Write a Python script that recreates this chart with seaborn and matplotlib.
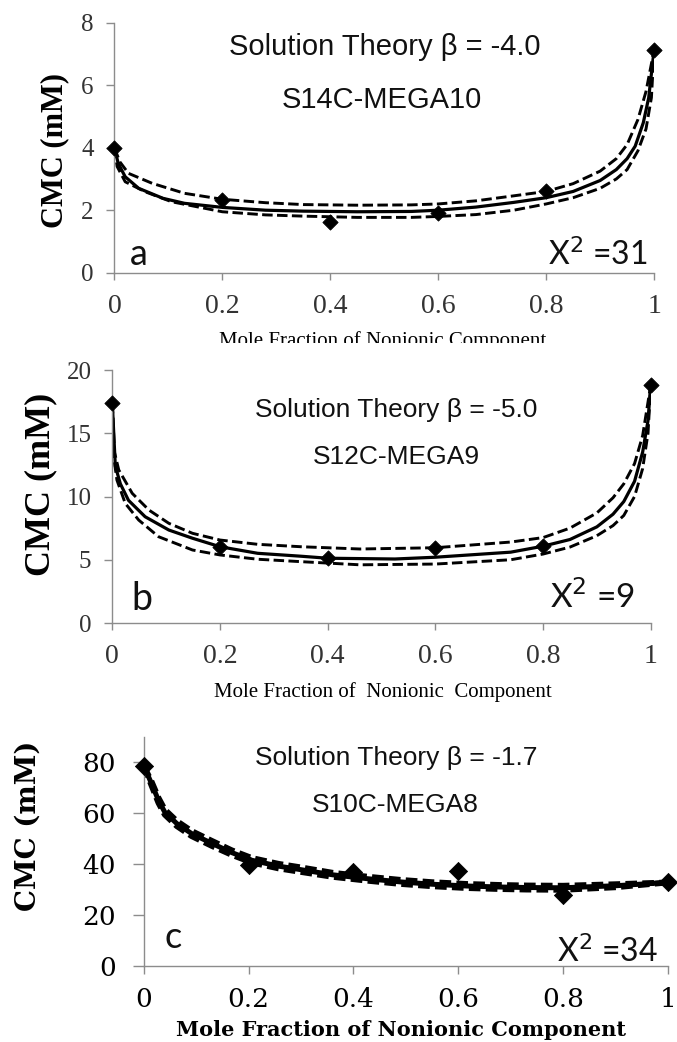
import matplotlib
matplotlib.use("Agg")
import matplotlib.pyplot as plt
import seaborn as sns
from matplotlib.transforms import Bbox, TransformedBbox

# ---------------- data ----------------
MOLE_FRACTION = [0.0, 0.2, 0.4, 0.6, 0.8, 1.0]
X_TICKS = [0.0, 0.2, 0.4, 0.6, 0.8, 1.0]
X_TICK_LABELS = ["0", "0.2", "0.4", "0.6", "0.8", "1"]

# (a) S14C-MEGA10, beta = -4.0
A_CMC = [4.0, 2.33, 1.63, 1.9, 2.62, 7.13]
A_FIT_X = [0, 0.007, 0.02, 0.045, 0.09, 0.13, 0.2, 0.28, 0.35, 0.45, 0.55, 0.6,
           0.67, 0.74, 0.8, 0.85, 0.9, 0.93, 0.95, 0.965, 0.98, 0.99, 1.0]
A_FIT_Y = [4.0, 3.5, 3.07, 2.7, 2.38, 2.22, 2.09, 2.0, 1.97, 1.95, 1.96, 2.0,
           2.1, 2.25, 2.4, 2.6, 2.95, 3.3, 3.65, 4.05, 4.8, 5.6, 7.13]
A_HI_X = [0, 0.01, 0.026, 0.07, 0.13, 0.2, 0.28, 0.35, 0.45, 0.55, 0.6, 0.67,
          0.74, 0.8, 0.85, 0.9, 0.93, 0.95, 0.97, 0.985, 1.0]
A_HI_Y = [4.0, 3.55, 3.18, 2.86, 2.54, 2.35, 2.24, 2.18, 2.16, 2.17, 2.2, 2.3,
          2.46, 2.6, 2.85, 3.25, 3.65, 4.1, 4.9, 5.8, 7.13]
A_LO_X = [0, 0.005, 0.02, 0.057, 0.106, 0.2, 0.28, 0.35, 0.45, 0.55, 0.6, 0.67,
          0.74, 0.8, 0.85, 0.9, 0.93, 0.95, 0.97, 0.985, 0.995, 1.0]
A_LO_Y = [4.0, 3.4, 2.91, 2.59, 2.27, 1.95, 1.85, 1.81, 1.77, 1.77, 1.8, 1.86,
          2.0, 2.2, 2.4, 2.7, 3.0, 3.3, 3.9, 4.6, 5.6, 7.13]

# (b) S12C-MEGA9, beta = -5.0
B_CMC = [17.4, 6.0, 5.1, 5.9, 6.05, 18.8]
B_FIT_X = [0, 0.0056, 0.015, 0.03, 0.061, 0.105, 0.149, 0.2, 0.27, 0.35, 0.4,
           0.525, 0.6, 0.74, 0.8, 0.85, 0.9, 0.93, 0.95, 0.97, 0.985, 0.995, 1.0]
B_FIT_Y = [17.4, 12.4, 11.0, 9.7, 8.4, 7.35, 6.7, 6.03, 5.51, 5.28, 5.12,
           5.06, 5.2, 5.6, 6.07, 6.6, 7.6, 8.6, 9.6, 11.2, 13.5, 16.0, 18.8]
B_HI_X = [0, 0.004, 0.012, 0.037, 0.068, 0.105, 0.149, 0.2, 0.27, 0.35, 0.46,
          0.6, 0.74, 0.8, 0.85, 0.9, 0.93, 0.95, 0.97, 0.985, 1.0]
B_HI_Y = [17.4, 13.5, 12.1, 10.25, 8.93, 7.88, 7.09, 6.56, 6.22, 6.03, 5.85,
          5.95, 6.4, 6.75, 7.5, 8.7, 9.9, 11.0, 12.6, 14.8, 18.8]
B_LO_X = [0, 0.003, 0.0086, 0.024, 0.049, 0.086, 0.149, 0.2, 0.27, 0.35, 0.46,
          0.6, 0.74, 0.8, 0.85, 0.9, 0.93, 0.95, 0.97, 0.985, 0.995, 1.0]
B_LO_Y = [17.4, 13.0, 11.3, 9.46, 8.14, 6.82, 5.77, 5.38, 5.04, 4.85, 4.6,
          4.66, 5.0, 5.45, 6.0, 6.9, 7.7, 8.5, 10.0, 12.2, 15.0, 18.8]

# (c) S10C-MEGA8, beta = -1.7
C_CMC = [78.5, 39.8, 36.8, 37.4, 27.8, 32.8]
C_FIT_X = [0, 0.015, 0.028, 0.04, 0.063, 0.091, 0.13, 0.168, 0.206, 0.257, 0.3,
           0.36, 0.425, 0.49, 0.55, 0.616, 0.68, 0.73, 0.8, 0.9, 1.0]
C_FIT_Y = [78.5, 71.5, 65.0, 60.4, 55.9, 52.0, 48.1, 44.5, 41.5, 39.2, 37.8,
           35.8, 34.3, 33.0, 32.1, 31.4, 31.0, 30.8, 30.7, 31.5, 32.8]
C_HI_Y = [78.5, 72.3, 66.0, 61.4, 56.9, 53.0, 49.1, 45.4, 42.4, 40.1, 38.7,
          36.6, 35.1, 33.8, 32.9, 32.2, 31.8, 31.6, 31.5, 32.1, 32.8]
C_LO_Y = [78.5, 70.7, 64.0, 59.4, 54.9, 51.0, 47.1, 43.6, 40.6, 38.3, 36.9,
          35.0, 33.5, 32.2, 31.3, 30.6, 30.2, 30.0, 29.9, 30.9, 32.8]

# ---------------- style ----------------
sns.set_style("ticks")
plt.rcParams["font.family"] = ["Liberation Serif", "DejaVu Sans"]

W, H = 677, 1042
SPINE = "#8c8c8c"
TICK_TXT = "#333333"
SANS = ["Liberation Sans", "DejaVu Sans"]
LETTER = ["Lato", "DejaVu Sans"]
DASH = (0, (3.6, 1.5))


def fx(px):
    return px / W


def fy(py):
    return 1 - py / H


def make_axes(left, right, top, bottom):
    return fig.add_axes([fx(left), fy(bottom), (right - left) / W, (bottom - top) / H])


def draw_curves(ax, fit, hi, lo, pts, solid_lw, dash_lw, dash, msize):
    sns.lineplot(x=fit[0], y=fit[1], ax=ax, color="black", lw=solid_lw,
                 estimator=None, sort=False)
    sns.lineplot(x=hi[0], y=hi[1], ax=ax, color="black", lw=dash_lw,
                 linestyle=dash, estimator=None, sort=False)
    sns.lineplot(x=lo[0], y=lo[1], ax=ax, color="black", lw=dash_lw,
                 linestyle=dash, estimator=None, sort=False)
    sns.scatterplot(x=MOLE_FRACTION, y=pts, ax=ax, marker="D", s=msize,
                    color="black", edgecolor="black", linewidth=0.6,
                    zorder=5, clip_on=False)


def style_axes(ax, ylim, yticks, font, ysize, xsize, ycolor, ylen, xlen, ypad, xpad):
    ax.set_xlim(0, 1)
    ax.set_ylim(*ylim)
    sns.despine(ax=ax)
    for side in ("left", "bottom"):
        ax.spines[side].set_color(SPINE)
        ax.spines[side].set_linewidth(1.0)
    ax.set_xticks(X_TICKS)
    ax.set_xticklabels(X_TICK_LABELS, family=font, fontsize=xsize, color=ycolor)
    ax.set_yticks(yticks)
    ax.set_yticklabels([str(t) for t in yticks], family=font, fontsize=ysize, color=ycolor)
    ax.tick_params(axis="y", length=ylen, width=1, color=SPINE, pad=ypad)
    ax.tick_params(axis="x", length=xlen, width=1, color=SPINE, pad=xpad)
    ax.set_facecolor("none")


def place_ylabel(ax, text, px, py, family, size):
    ax.set_ylabel(text, family=family, fontsize=size, fontweight="bold", color="black")
    ax.yaxis.set_label_coords(fx(px), fy(py), transform=fig.transFigure)
    ax.yaxis.label.set_va("center")


def place_xlabel(ax, text, px, py, family, size, weight="normal"):
    ax.set_xlabel(text, family=family, fontsize=size, fontweight=weight, color="black")
    ax.xaxis.set_label_coords(fx(px), fy(py), transform=fig.transFigure)
    ax.xaxis.label.set_va("center")


def chi_label(px, py, value, size):
    fig.text(fx(px), fy(py), "X$^{2}$ =" + value, family=LETTER, fontsize=size,
             ha="right", va="baseline", color="#111111",
             math_fontfamily="dejavusans")


fig = plt.figure(figsize=(W / 100, H / 100), dpi=100)

# ---------------- panel a ----------------
ax_a = make_axes(114.4, 654.1, 22.7, 272.7)
draw_curves(ax_a, (A_FIT_X, A_FIT_Y), (A_HI_X, A_HI_Y), (A_LO_X, A_LO_Y), A_CMC,
            2.3, 2.1, DASH, 60)
style_axes(ax_a, (0, 8), [0, 2, 4, 6, 8], ["Liberation Serif"], 18, 20, TICK_TXT,
           6, 5, 9, 10)
place_ylabel(ax_a, "CMC (mM)", 55, 150, ["Liberation Serif"], 22)
place_xlabel(ax_a, "Mole Fraction of Nonionic Component", 383, 341,
             ["Liberation Serif"], 15)
# the axis title is cut by the panel below it
ax_a.xaxis.label.set_clip_box(TransformedBbox(Bbox.from_extents(0, fy(343), 1, 1),
                                              fig.transFigure))
ax_a.xaxis.label.set_clip_on(True)

fig.text(fx(384.5), fy(46.7), "Solution Theory β = -4.0", family=SANS, fontsize=21,
         ha="center", va="center", color="#111111")
fig.text(fx(382), fy(100), "S14C-MEGA10", family=SANS, fontsize=21,
         ha="center", va="center", color="#111111")
fig.text(fx(130), fy(265), "a", family=LETTER, fontsize=26, ha="left",
         va="baseline", color="#111111")
chi_label(648, 265, "31", 23)

# ---------------- panel b ----------------
ax_b = make_axes(112.3, 650.7, 370, 623)
draw_curves(ax_b, (B_FIT_X, B_FIT_Y), (B_HI_X, B_HI_Y), (B_LO_X, B_LO_Y), B_CMC,
            2.3, 2.1, DASH, 60)
style_axes(ax_b, (0, 20), [0, 5, 10, 15, 20], ["Liberation Serif"], 18, 20, TICK_TXT,
           6, 5, 9, 10)
place_ylabel(ax_b, "CMC (mM)", 41, 484, ["Liberation Serif"], 26)
place_xlabel(ax_b, "Mole Fraction of  Nonionic  Component", 383, 692,
             ["Liberation Serif"], 15)

fig.text(fx(396), fy(410), "Solution Theory β = -5.0", family=SANS, fontsize=19,
         ha="center", va="center", color="#111111")
fig.text(fx(396), fy(456.7), "S12C-MEGA9", family=SANS, fontsize=19,
         ha="center", va="center", color="#111111")
fig.text(fx(131), fy(610), "b", family=LETTER, fontsize=27, ha="left",
         va="baseline", color="#111111")
chi_label(635, 608, "9", 24)

# ---------------- panel c ----------------
ax_c = make_axes(143.8, 668, 736.7, 966)
draw_curves(ax_c, (C_FIT_X, C_FIT_Y), (C_FIT_X, C_HI_Y), (C_FIT_X, C_LO_Y), C_CMC,
            3.6, 4.2, (0, (2.0, 0.9)), 85)
style_axes(ax_c, (0, 90), [0, 20, 40, 60, 80], ["DejaVu Serif"], 19, 19, "black",
           8, 6, 12, 9)
place_ylabel(ax_c, "CMC (mM)", 28, 826, ["DejaVu Serif"], 20)
place_xlabel(ax_c, "Mole Fraction of Nonionic Component", 401, 1030,
             ["DejaVu Serif"], 15, weight="bold")

fig.text(fx(396), fy(758), "Solution Theory β = -1.7", family=SANS, fontsize=19,
         ha="center", va="center", color="#111111")
fig.text(fx(395), fy(805), "S10C-MEGA8", family=SANS, fontsize=19,
         ha="center", va="center", color="#111111")
fig.text(fx(165), fy(948), "c", family=LETTER, fontsize=26, ha="left",
         va="baseline", color="#111111")
chi_label(658, 961.7, "34", 23)

fig.savefig("out.png", dpi=100, facecolor="white")
